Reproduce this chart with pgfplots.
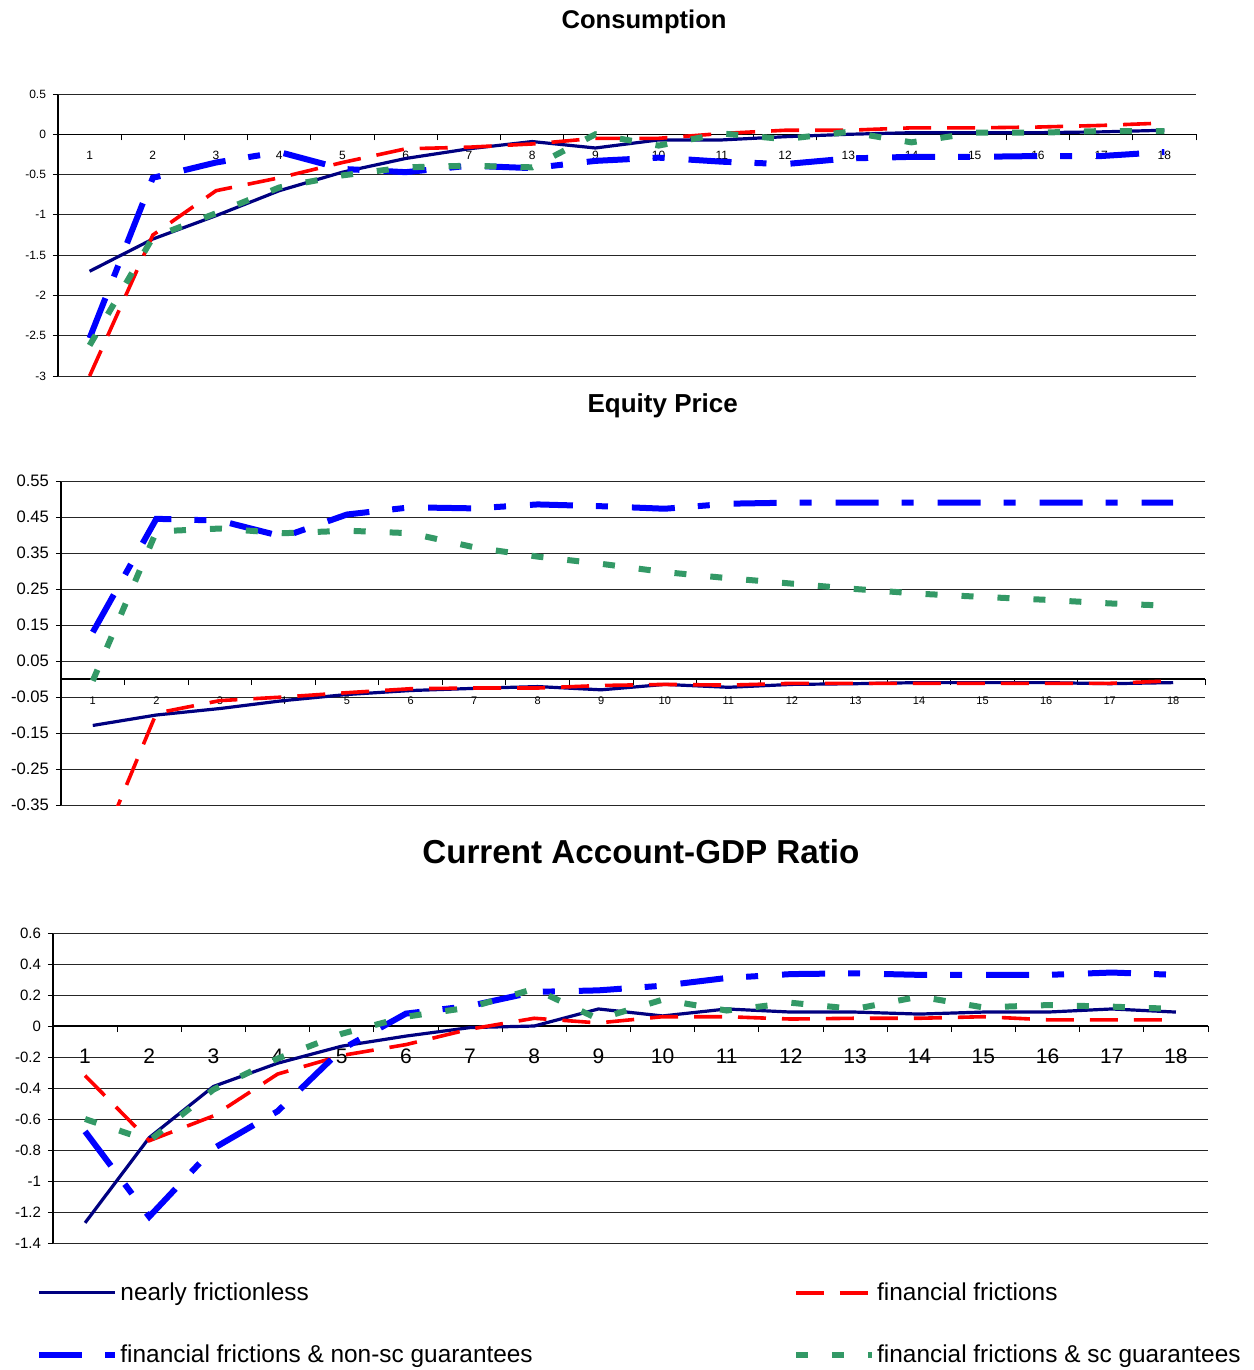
\documentclass[border=0pt]{standalone}
\usepackage{fontspec}
\setmainfont{Liberation Sans}
\usepackage{pgfplots}
\usepackage{pgfplotstable}
\pgfplotsset{compat=1.18}

\definecolor{navyc}{RGB}{0,0,128}
\definecolor{redc}{RGB}{255,0,0}
\definecolor{bluec}{RGB}{0,0,255}
\definecolor{greenc}{RGB}{51,153,102}

\pgfplotstableread{
x nf ff nsc sc
1 -1.70 -3.00 -2.53 -2.62
2 -1.30 -1.25 -0.54 -1.28
3 -1.01 -0.70 -0.35 -0.98
4 -0.70 -0.54 -0.22 -0.66
5 -0.47 -0.35 -0.43 -0.51
6 -0.30 -0.18 -0.47 -0.41
7 -0.18 -0.16 -0.39 -0.39
8 -0.09 -0.12 -0.42 -0.41
9 -0.17 -0.05 -0.33 0.00
10 -0.07 -0.05 -0.29 -0.14
11 -0.07 0.01 -0.34 0.01
12 -0.03 0.05 -0.37 -0.06
13 0.00 0.05 -0.30 0.03
14 0.02 0.08 -0.28 -0.10
15 0.02 0.08 -0.28 0.02
16 0.02 0.09 -0.27 0.02
17 0.03 0.11 -0.27 0.04
18 0.05 0.14 -0.22 0.04
}\consumption

\pgfplotstableread{
x nf ff nsc sc
1 -0.129 -0.52 0.13 -0.005
2 -0.100 -0.095 0.445 0.41
3 -0.082 -0.060 0.44 0.418
4 -0.060 -0.050 0.395 0.405
5 -0.043 -0.038 0.457 0.412
6 -0.032 -0.027 0.477 0.405
7 -0.026 -0.025 0.474 0.366
8 -0.021 -0.025 0.485 0.34
9 -0.030 -0.018 0.48 0.32
10 -0.015 -0.015 0.473 0.297
11 -0.023 -0.017 0.487 0.28
12 -0.015 -0.012 0.49 0.265
13 -0.013 -0.012 0.49 0.25
14 -0.010 -0.012 0.49 0.237
15 -0.010 -0.012 0.49 0.228
16 -0.010 -0.012 0.49 0.22
17 -0.013 -0.012 0.49 0.21
18 -0.010 -0.005 0.49 0.203
}\equity

\pgfplotstableread{
x nf ff nsc sc
1 -1.27 -0.32 -0.68 -0.60
2 -0.72 -0.74 -1.23 -0.74
3 -0.39 -0.58 -0.79 -0.41
4 -0.24 -0.31 -0.55 -0.21
5 -0.13 -0.19 -0.15 -0.05
6 -0.065 -0.12 0.08 0.06
7 -0.01 -0.02 0.13 0.12
8 0.00 0.05 0.22 0.24
9 0.11 0.02 0.23 0.045
10 0.065 0.06 0.26 0.17
11 0.11 0.06 0.31 0.10
12 0.09 0.045 0.335 0.15
13 0.09 0.05 0.34 0.11
14 0.077 0.05 0.33 0.19
15 0.09 0.06 0.33 0.12
16 0.09 0.04 0.33 0.135
17 0.11 0.04 0.345 0.125
18 0.09 0.04 0.33 0.11
}\cagdp

\pgfplotsset{
  myax/.style={
    scale only axis, anchor=south west,
    xmin=0.5, xmax=18.5,
    axis x line=middle, axis y line=left,
    axis line style={-, black, line width=0.6bp},
    xtick={1,...,18},
    minor xtick={0.5,1.5,...,18.5},
    major x tick style={draw=none},
    minor x tick style={black, line width=0.5bp},
    minor tick length=3bp,
    major tick length=2.5bp,
    tick align=outside,
    tick style={black, line width=0.5bp},
    ymajorgrids, major y grid style={black!85, line width=0.5bp},
    extra y tick style={major grid style={black!18, line width=0.6bp}},
    hide obscured x ticks=false, hide obscured y ticks=false,
    /pgf/number format/assume math mode=true,
    /pgf/number format/fixed,
    /pgf/number format/precision=2,
    title style={font=\bfseries, anchor=center, yshift=-6pt},
  },
  nf/.style={navyc, line width=1.6bp, solid},
  ff/.style={redc, line width=1.8bp, dash pattern=on 14bp off 8bp},
  nsc/.style={bluec, line width=3bp, dash pattern=on 21.5bp off 11.5bp on 6bp off 12bp},
  sc/.style={greenc, line width=3bp, dash pattern=on 6bp off 12bp},
}

\begin{document}
\begin{tikzpicture}
\useasboundingbox (0bp,0bp) rectangle (627bp,-685bp);

% Consumption
\begin{axis}[myax,
  at={(29bp,-188bp)}, width=569bp, height=141bp,
  ymin=-3, ymax=0.5,
  ytick={-3,-2.5,...,0},
  extra y ticks={0.5},
  yticklabel style={font=\fontsize{6bp}{7bp}\selectfont},
  extra y tick style={yticklabel style={font=\fontsize{6bp}{7bp}\selectfont}},
  xticklabel style={font=\fontsize{6bp}{7bp}\selectfont, yshift=-2.5bp},
  title={Consumption},
  title style={at={(axis description cs:0.515,1.255)}, font=\fontsize{12.8bp}{15bp}\selectfont\bfseries},
]
\addplot[nf] table[x=x,y=nf] {\consumption};
\addplot[ff] table[x=x,y=ff] {\consumption};
\addplot[nsc] table[x=x,y=nsc] {\consumption};
\addplot[sc] table[x=x,y=sc] {\consumption};
\end{axis}

% Equity Price
\begin{axis}[myax,
  at={(30.5bp,-402.5bp)}, width=572bp, height=162bp,
  ymin=-0.35, ymax=0.55,
  ytick={-0.25,-0.15,-0.05,0.05,0.15,0.25,0.35,0.45},
  extra y ticks={-0.35,0.55},
  yticklabel style={font=\fontsize{8.3bp}{10bp}\selectfont},
  extra y tick style={yticklabel style={font=\fontsize{8.3bp}{10bp}\selectfont}},
  xticklabel style={font=\fontsize{5.5bp}{7bp}\selectfont, yshift=-3bp},
  title={Equity Price},
  title style={at={(axis description cs:0.526,1.232)}, font=\fontsize{13bp}{15bp}\selectfont\bfseries},
]
\addplot[nf] table[x=x,y=nf] {\equity};
\addplot[ff] table[x=x,y=ff] {\equity};
\addplot[nsc] table[x=x,y=nsc] {\equity};
\addplot[sc] table[x=x,y=sc] {\equity};
\end{axis}

% Current Account-GDP Ratio
\begin{axis}[myax,
  at={(26.5bp,-621.5bp)}, width=577.5bp, height=155bp,
  ymin=-1.4, ymax=0.6,
  ytick={-1.2,-1,-0.8,-0.6,-0.4,-0.2,0,0.2,0.4},
  extra y ticks={-1.4,0.6},
  yticklabel style={font=\fontsize{7.5bp}{9bp}\selectfont},
  extra y tick style={yticklabel style={font=\fontsize{7.5bp}{9bp}\selectfont}},
  xticklabel style={font=\fontsize{10.5bp}{12bp}\selectfont, yshift=-5.5bp},
  title={Current Account-GDP Ratio},
  title style={at={(axis description cs:0.509,1.261)}, font=\fontsize{16.6bp}{19bp}\selectfont\bfseries},
  legend columns=2,
  legend cell align=left,
  legend image code/.code={\draw[#1] (0bp,0bp) -- (38bp,0bp);},
  legend style={draw=none, fill=none,
    at={(axis description cs:-0.0145,-0.12)}, anchor=north west,
    inner sep=0pt, outer sep=0pt,
    font=\fontsize{12.2bp}{14bp}\selectfont,
    nodes={inner sep=1.1bp},
    row sep=18.5bp,
    /tikz/every even column/.append style={column sep=129bp}},
]
\addplot[nf] table[x=x,y=nf] {\cagdp};
\addlegendentry{nearly frictionless}
\addplot[ff] table[x=x,y=ff] {\cagdp};
\addlegendentry{financial frictions}
\addplot[nsc] table[x=x,y=nsc] {\cagdp};
\addlegendentry{financial frictions \& non-sc guarantees}
\addplot[sc] table[x=x,y=sc] {\cagdp};
\addlegendentry{financial frictions \& sc guarantees}
\end{axis}
\end{tikzpicture}
\end{document}
